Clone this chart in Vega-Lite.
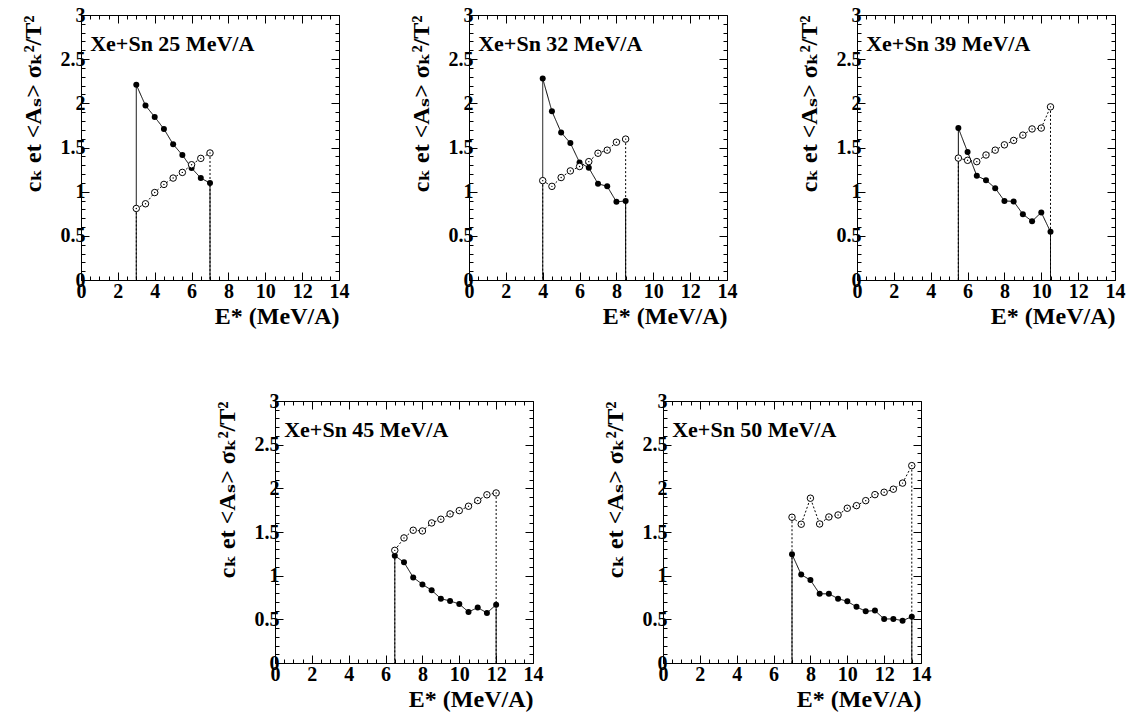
{
"$schema": "https://vega.github.io/schema/vega-lite/v6.json",
"background": "white",
"padding": {"left": 21, "top": 5, "right": 5, "bottom": 5},
"config": {"view": {"stroke": null}},
"datasets": {"d": [
{"p":"25","s":"f","e":3,"v":2.21},{"p":"25","s":"f","e":3.5,"v":1.975},{"p":"25","s":"f","e":4,"v":1.846},{"p":"25","s":"f","e":4.5,"v":1.71},{"p":"25","s":"f","e":5,"v":1.536},{"p":"25","s":"f","e":5.5,"v":1.415},{"p":"25","s":"f","e":6,"v":1.267},{"p":"25","s":"f","e":6.5,"v":1.154},{"p":"25","s":"f","e":7,"v":1.097},
{"p":"25","s":"o","e":3,"v":0.81},{"p":"25","s":"o","e":3.5,"v":0.863},{"p":"25","s":"o","e":4,"v":0.99},{"p":"25","s":"o","e":4.5,"v":1.082},{"p":"25","s":"o","e":5,"v":1.154},{"p":"25","s":"o","e":5.5,"v":1.218},{"p":"25","s":"o","e":6,"v":1.305},{"p":"25","s":"o","e":6.5,"v":1.377},{"p":"25","s":"o","e":7,"v":1.438},
{"p":"32","s":"f","e":4,"v":2.28},{"p":"32","s":"f","e":4.5,"v":1.91},{"p":"32","s":"f","e":5,"v":1.67},{"p":"32","s":"f","e":5.5,"v":1.55},{"p":"32","s":"f","e":6,"v":1.33},{"p":"32","s":"f","e":6.5,"v":1.27},{"p":"32","s":"f","e":7,"v":1.09},{"p":"32","s":"f","e":7.5,"v":1.06},{"p":"32","s":"f","e":8,"v":0.885},{"p":"32","s":"f","e":8.5,"v":0.895},
{"p":"32","s":"o","e":4,"v":1.125},{"p":"32","s":"o","e":4.5,"v":1.06},{"p":"32","s":"o","e":5,"v":1.16},{"p":"32","s":"o","e":5.5,"v":1.235},{"p":"32","s":"o","e":6,"v":1.285},{"p":"32","s":"o","e":6.5,"v":1.34},{"p":"32","s":"o","e":7,"v":1.435},{"p":"32","s":"o","e":7.5,"v":1.47},{"p":"32","s":"o","e":8,"v":1.56},{"p":"32","s":"o","e":8.5,"v":1.595},
{"p":"39","s":"f","e":5.5,"v":1.72},{"p":"39","s":"f","e":6,"v":1.45},{"p":"39","s":"f","e":6.5,"v":1.18},{"p":"39","s":"f","e":7,"v":1.13},{"p":"39","s":"f","e":7.5,"v":1.04},{"p":"39","s":"f","e":8,"v":0.895},{"p":"39","s":"f","e":8.5,"v":0.89},{"p":"39","s":"f","e":9,"v":0.745},{"p":"39","s":"f","e":9.5,"v":0.665},{"p":"39","s":"f","e":10,"v":0.765},{"p":"39","s":"f","e":10.5,"v":0.545},
{"p":"39","s":"o","e":5.5,"v":1.38},{"p":"39","s":"o","e":6,"v":1.355},{"p":"39","s":"o","e":6.5,"v":1.34},{"p":"39","s":"o","e":7,"v":1.415},{"p":"39","s":"o","e":7.5,"v":1.47},{"p":"39","s":"o","e":8,"v":1.53},{"p":"39","s":"o","e":8.5,"v":1.58},{"p":"39","s":"o","e":9,"v":1.64},{"p":"39","s":"o","e":9.5,"v":1.71},{"p":"39","s":"o","e":10,"v":1.72},{"p":"39","s":"o","e":10.5,"v":1.96},
{"p":"45","s":"f","e":6.5,"v":1.229},{"p":"45","s":"f","e":7,"v":1.153},{"p":"45","s":"f","e":7.5,"v":0.98},{"p":"45","s":"f","e":8,"v":0.9},{"p":"45","s":"f","e":8.5,"v":0.833},{"p":"45","s":"f","e":9,"v":0.737},{"p":"45","s":"f","e":9.5,"v":0.71},{"p":"45","s":"f","e":10,"v":0.676},{"p":"45","s":"f","e":10.5,"v":0.584},{"p":"45","s":"f","e":11,"v":0.635},{"p":"45","s":"f","e":11.5,"v":0.573},{"p":"45","s":"f","e":12,"v":0.668},
{"p":"45","s":"o","e":6.5,"v":1.29},{"p":"45","s":"o","e":7,"v":1.432},{"p":"45","s":"o","e":7.5,"v":1.52},{"p":"45","s":"o","e":8,"v":1.512},{"p":"45","s":"o","e":8.5,"v":1.604},{"p":"45","s":"o","e":9,"v":1.646},{"p":"45","s":"o","e":9.5,"v":1.707},{"p":"45","s":"o","e":10,"v":1.745},{"p":"45","s":"o","e":10.5,"v":1.795},{"p":"45","s":"o","e":11,"v":1.86},{"p":"45","s":"o","e":11.5,"v":1.926},{"p":"45","s":"o","e":12,"v":1.947},
{"p":"50","s":"f","e":7,"v":1.245},{"p":"50","s":"f","e":7.5,"v":1.012},{"p":"50","s":"f","e":8,"v":0.949},{"p":"50","s":"f","e":8.5,"v":0.792},{"p":"50","s":"f","e":9,"v":0.792},{"p":"50","s":"f","e":9.5,"v":0.737},{"p":"50","s":"f","e":10,"v":0.706},{"p":"50","s":"f","e":10.5,"v":0.643},{"p":"50","s":"f","e":11,"v":0.592},{"p":"50","s":"f","e":11.5,"v":0.6},{"p":"50","s":"f","e":12,"v":0.504},{"p":"50","s":"f","e":12.5,"v":0.505},{"p":"50","s":"f","e":13,"v":0.485},{"p":"50","s":"f","e":13.5,"v":0.53},
{"p":"50","s":"o","e":7,"v":1.669},{"p":"50","s":"o","e":7.5,"v":1.589},{"p":"50","s":"o","e":8,"v":1.887},{"p":"50","s":"o","e":8.5,"v":1.592},{"p":"50","s":"o","e":9,"v":1.672},{"p":"50","s":"o","e":9.5,"v":1.695},{"p":"50","s":"o","e":10,"v":1.772},{"p":"50","s":"o","e":10.5,"v":1.802},{"p":"50","s":"o","e":11,"v":1.859},{"p":"50","s":"o","e":11.5,"v":1.928},{"p":"50","s":"o","e":12,"v":1.955},{"p":"50","s":"o","e":12.5,"v":1.99},{"p":"50","s":"o","e":13,"v":2.06},{"p":"50","s":"o","e":13.5,"v":2.26}
]},
"center": true,
"spacing": 63,
"vconcat": [
{"spacing": 60, "hconcat": [
{"width": 258, "height": 265, "data": {"name": "d"},
 "transform": [{"filter": "datum.p == '25'"}, {"joinaggregate": [{"op": "min", "field": "e", "as": "emin"}, {"op": "max", "field": "e", "as": "emax"}], "groupby": ["s"]}],
 "resolve": {"axis": {"x": "independent", "y": "independent"}},
 "layer": [
  {"transform": [{"filter": "datum.e == datum.emin || datum.e == datum.emax"}], "mark": {"type": "rule", "color": "black", "strokeWidth": 1},
   "encoding": {
    "x": {"field": "e", "type": "quantitative", "scale": {"domain": [0, 14], "nice": false, "zero": false}, "axis": {"orient": "bottom", "values": [0,0.5,1,1.5,2,2.5,3,3.5,4,4.5,5,5.5,6,6.5,7,7.5,8,8.5,9,9.5,10,10.5,11,11.5,12,12.5,13,13.5,14], "labelExpr": "datum.value % 2 == 0 ? format(datum.value, 'd') : ''", "tickSize": {"condition": {"test": "datum.value % 2 == 0", "value": -8}, "value": -4}, "tickColor": "black", "domainColor": "black", "labelFont": "Liberation Serif, Times New Roman, DejaVu Serif, serif", "labelFontWeight": "bold", "labelFontSize": 20, "labelColor": "black", "labelPadding": 9, "labelFlush": false, "labelOverlap": false, "title": "E* (MeV/A)", "titleAnchor": "end", "titleFont": "Liberation Serif, Times New Roman, DejaVu Serif, serif", "titleFontSize": 24, "titleFontWeight": "bold", "titleColor": "black", "titlePadding": -1, "grid": false}},
    "y": {"field": "v", "type": "quantitative", "scale": {"domain": [0, 3], "nice": false}, "axis": {"orient": "left", "values": [0,0.1,0.2,0.3,0.4,0.5,0.6,0.7,0.8,0.9,1,1.1,1.2,1.3,1.4,1.5,1.6,1.7,1.8,1.9,2,2.1,2.2,2.3,2.4,2.5,2.6,2.7,2.8,2.9,3], "labelExpr": "abs(datum.value*2 - round(datum.value*2)) < 0.001 ? format(datum.value, '~g') : ''", "tickSize": {"condition": {"test": "abs(datum.value*2 - round(datum.value*2)) < 0.001", "value": -8}, "value": -4}, "tickColor": "black", "domainColor": "black", "labelFont": "Liberation Serif, Times New Roman, DejaVu Serif, serif", "labelFontWeight": "bold", "labelFontSize": 20, "labelColor": "black", "labelPadding": 4, "labelFlush": false, "labelOverlap": false, "title": "cₖ et <Aₛ> σₖ²/T²", "titleX": -41, "titleY": 0, "titleAngle": 270, "titleAlign": "right", "titleBaseline": "alphabetic", "titleFont": "Liberation Serif, Times New Roman, DejaVu Serif, serif", "titleFontSize": 24, "titleFontWeight": "bold", "titleColor": "black", "grid": false}},
    "y2": {"datum": 0},
    "strokeDash": {"field": "s", "type": "nominal", "scale": {"domain": ["f", "o"], "range": [[1, 0], [2, 2]]}, "legend": null}}},
  {"mark": {"type": "line", "color": "black", "strokeWidth": 1},
   "encoding": {
    "x": {"field": "e", "type": "quantitative", "axis": {"orient": "top", "values": [0,0.5,1,1.5,2,2.5,3,3.5,4,4.5,5,5.5,6,6.5,7,7.5,8,8.5,9,9.5,10,10.5,11,11.5,12,12.5,13,13.5,14], "labels": false, "tickSize": {"condition": {"test": "datum.value % 2 == 0", "value": -8}, "value": -4}, "tickColor": "black", "domainColor": "black", "title": null, "grid": false}},
    "y": {"field": "v", "type": "quantitative", "axis": {"orient": "right", "values": [0,0.1,0.2,0.3,0.4,0.5,0.6,0.7,0.8,0.9,1,1.1,1.2,1.3,1.4,1.5,1.6,1.7,1.8,1.9,2,2.1,2.2,2.3,2.4,2.5,2.6,2.7,2.8,2.9,3], "labels": false, "tickSize": {"condition": {"test": "abs(datum.value*2 - round(datum.value*2)) < 0.001", "value": -8}, "value": -4}, "tickColor": "black", "domainColor": "black", "title": null, "grid": false}},
    "strokeDash": {"field": "s", "type": "nominal", "legend": null}}},
  {"transform": [{"filter": "datum.s == 'f'"}], "mark": {"type": "circle", "color": "black", "opacity": 1, "size": 36},
   "encoding": {"x": {"field": "e", "type": "quantitative", "axis": null}, "y": {"field": "v", "type": "quantitative", "axis": null}}},
  {"transform": [{"filter": "datum.s == 'o'"}], "mark": {"type": "point", "shape": "circle", "filled": false, "fill": "white", "fillOpacity": 1, "stroke": "black", "strokeWidth": 1, "opacity": 1, "size": 42},
   "encoding": {"x": {"field": "e", "type": "quantitative", "axis": null}, "y": {"field": "v", "type": "quantitative", "axis": null}}},
  {"transform": [{"filter": "datum.s == 'o'"}], "mark": {"type": "circle", "color": "black", "opacity": 1, "size": 2},
   "encoding": {"x": {"field": "e", "type": "quantitative", "axis": null}, "y": {"field": "v", "type": "quantitative", "axis": null}}},
  {"data": {"values": [{"t": "Xe+Sn 25 MeV/A"}]}, "mark": {"type": "text", "align": "left", "baseline": "middle", "font": "Liberation Serif, Times New Roman, DejaVu Serif, serif", "fontWeight": "bold", "fontSize": 22, "color": "black"},
   "encoding": {"x": {"datum": 0.5, "type": "quantitative", "axis": null}, "y": {"datum": 2.67, "type": "quantitative", "axis": null}, "text": {"field": "t"}}}
 ]},
{"width": 258, "height": 265, "data": {"name": "d"},
 "transform": [{"filter": "datum.p == '32'"}, {"joinaggregate": [{"op": "min", "field": "e", "as": "emin"}, {"op": "max", "field": "e", "as": "emax"}], "groupby": ["s"]}],
 "resolve": {"axis": {"x": "independent", "y": "independent"}},
 "layer": [
  {"transform": [{"filter": "datum.e == datum.emin || datum.e == datum.emax"}], "mark": {"type": "rule", "color": "black", "strokeWidth": 1},
   "encoding": {
    "x": {"field": "e", "type": "quantitative", "scale": {"domain": [0, 14], "nice": false, "zero": false}, "axis": {"orient": "bottom", "values": [0,0.5,1,1.5,2,2.5,3,3.5,4,4.5,5,5.5,6,6.5,7,7.5,8,8.5,9,9.5,10,10.5,11,11.5,12,12.5,13,13.5,14], "labelExpr": "datum.value % 2 == 0 ? format(datum.value, 'd') : ''", "tickSize": {"condition": {"test": "datum.value % 2 == 0", "value": -8}, "value": -4}, "tickColor": "black", "domainColor": "black", "labelFont": "Liberation Serif, Times New Roman, DejaVu Serif, serif", "labelFontWeight": "bold", "labelFontSize": 20, "labelColor": "black", "labelPadding": 9, "labelFlush": false, "labelOverlap": false, "title": "E* (MeV/A)", "titleAnchor": "end", "titleFont": "Liberation Serif, Times New Roman, DejaVu Serif, serif", "titleFontSize": 24, "titleFontWeight": "bold", "titleColor": "black", "titlePadding": -1, "grid": false}},
    "y": {"field": "v", "type": "quantitative", "scale": {"domain": [0, 3], "nice": false}, "axis": {"orient": "left", "values": [0,0.1,0.2,0.3,0.4,0.5,0.6,0.7,0.8,0.9,1,1.1,1.2,1.3,1.4,1.5,1.6,1.7,1.8,1.9,2,2.1,2.2,2.3,2.4,2.5,2.6,2.7,2.8,2.9,3], "labelExpr": "abs(datum.value*2 - round(datum.value*2)) < 0.001 ? format(datum.value, '~g') : ''", "tickSize": {"condition": {"test": "abs(datum.value*2 - round(datum.value*2)) < 0.001", "value": -8}, "value": -4}, "tickColor": "black", "domainColor": "black", "labelFont": "Liberation Serif, Times New Roman, DejaVu Serif, serif", "labelFontWeight": "bold", "labelFontSize": 20, "labelColor": "black", "labelPadding": 4, "labelFlush": false, "labelOverlap": false, "title": "cₖ et <Aₛ> σₖ²/T²", "titleX": -41, "titleY": 0, "titleAngle": 270, "titleAlign": "right", "titleBaseline": "alphabetic", "titleFont": "Liberation Serif, Times New Roman, DejaVu Serif, serif", "titleFontSize": 24, "titleFontWeight": "bold", "titleColor": "black", "grid": false}},
    "y2": {"datum": 0},
    "strokeDash": {"field": "s", "type": "nominal", "scale": {"domain": ["f", "o"], "range": [[1, 0], [2, 2]]}, "legend": null}}},
  {"mark": {"type": "line", "color": "black", "strokeWidth": 1},
   "encoding": {
    "x": {"field": "e", "type": "quantitative", "axis": {"orient": "top", "values": [0,0.5,1,1.5,2,2.5,3,3.5,4,4.5,5,5.5,6,6.5,7,7.5,8,8.5,9,9.5,10,10.5,11,11.5,12,12.5,13,13.5,14], "labels": false, "tickSize": {"condition": {"test": "datum.value % 2 == 0", "value": -8}, "value": -4}, "tickColor": "black", "domainColor": "black", "title": null, "grid": false}},
    "y": {"field": "v", "type": "quantitative", "axis": {"orient": "right", "values": [0,0.1,0.2,0.3,0.4,0.5,0.6,0.7,0.8,0.9,1,1.1,1.2,1.3,1.4,1.5,1.6,1.7,1.8,1.9,2,2.1,2.2,2.3,2.4,2.5,2.6,2.7,2.8,2.9,3], "labels": false, "tickSize": {"condition": {"test": "abs(datum.value*2 - round(datum.value*2)) < 0.001", "value": -8}, "value": -4}, "tickColor": "black", "domainColor": "black", "title": null, "grid": false}},
    "strokeDash": {"field": "s", "type": "nominal", "legend": null}}},
  {"transform": [{"filter": "datum.s == 'f'"}], "mark": {"type": "circle", "color": "black", "opacity": 1, "size": 36},
   "encoding": {"x": {"field": "e", "type": "quantitative", "axis": null}, "y": {"field": "v", "type": "quantitative", "axis": null}}},
  {"transform": [{"filter": "datum.s == 'o'"}], "mark": {"type": "point", "shape": "circle", "filled": false, "fill": "white", "fillOpacity": 1, "stroke": "black", "strokeWidth": 1, "opacity": 1, "size": 42},
   "encoding": {"x": {"field": "e", "type": "quantitative", "axis": null}, "y": {"field": "v", "type": "quantitative", "axis": null}}},
  {"transform": [{"filter": "datum.s == 'o'"}], "mark": {"type": "circle", "color": "black", "opacity": 1, "size": 2},
   "encoding": {"x": {"field": "e", "type": "quantitative", "axis": null}, "y": {"field": "v", "type": "quantitative", "axis": null}}},
  {"data": {"values": [{"t": "Xe+Sn 32 MeV/A"}]}, "mark": {"type": "text", "align": "left", "baseline": "middle", "font": "Liberation Serif, Times New Roman, DejaVu Serif, serif", "fontWeight": "bold", "fontSize": 22, "color": "black"},
   "encoding": {"x": {"datum": 0.5, "type": "quantitative", "axis": null}, "y": {"datum": 2.67, "type": "quantitative", "axis": null}, "text": {"field": "t"}}}
 ]},
{"width": 258, "height": 265, "data": {"name": "d"},
 "transform": [{"filter": "datum.p == '39'"}, {"joinaggregate": [{"op": "min", "field": "e", "as": "emin"}, {"op": "max", "field": "e", "as": "emax"}], "groupby": ["s"]}],
 "resolve": {"axis": {"x": "independent", "y": "independent"}},
 "layer": [
  {"transform": [{"filter": "datum.e == datum.emin || datum.e == datum.emax"}], "mark": {"type": "rule", "color": "black", "strokeWidth": 1},
   "encoding": {
    "x": {"field": "e", "type": "quantitative", "scale": {"domain": [0, 14], "nice": false, "zero": false}, "axis": {"orient": "bottom", "values": [0,0.5,1,1.5,2,2.5,3,3.5,4,4.5,5,5.5,6,6.5,7,7.5,8,8.5,9,9.5,10,10.5,11,11.5,12,12.5,13,13.5,14], "labelExpr": "datum.value % 2 == 0 ? format(datum.value, 'd') : ''", "tickSize": {"condition": {"test": "datum.value % 2 == 0", "value": -8}, "value": -4}, "tickColor": "black", "domainColor": "black", "labelFont": "Liberation Serif, Times New Roman, DejaVu Serif, serif", "labelFontWeight": "bold", "labelFontSize": 20, "labelColor": "black", "labelPadding": 9, "labelFlush": false, "labelOverlap": false, "title": "E* (MeV/A)", "titleAnchor": "end", "titleFont": "Liberation Serif, Times New Roman, DejaVu Serif, serif", "titleFontSize": 24, "titleFontWeight": "bold", "titleColor": "black", "titlePadding": -1, "grid": false}},
    "y": {"field": "v", "type": "quantitative", "scale": {"domain": [0, 3], "nice": false}, "axis": {"orient": "left", "values": [0,0.1,0.2,0.3,0.4,0.5,0.6,0.7,0.8,0.9,1,1.1,1.2,1.3,1.4,1.5,1.6,1.7,1.8,1.9,2,2.1,2.2,2.3,2.4,2.5,2.6,2.7,2.8,2.9,3], "labelExpr": "abs(datum.value*2 - round(datum.value*2)) < 0.001 ? format(datum.value, '~g') : ''", "tickSize": {"condition": {"test": "abs(datum.value*2 - round(datum.value*2)) < 0.001", "value": -8}, "value": -4}, "tickColor": "black", "domainColor": "black", "labelFont": "Liberation Serif, Times New Roman, DejaVu Serif, serif", "labelFontWeight": "bold", "labelFontSize": 20, "labelColor": "black", "labelPadding": 4, "labelFlush": false, "labelOverlap": false, "title": "cₖ et <Aₛ> σₖ²/T²", "titleX": -41, "titleY": 0, "titleAngle": 270, "titleAlign": "right", "titleBaseline": "alphabetic", "titleFont": "Liberation Serif, Times New Roman, DejaVu Serif, serif", "titleFontSize": 24, "titleFontWeight": "bold", "titleColor": "black", "grid": false}},
    "y2": {"datum": 0},
    "strokeDash": {"field": "s", "type": "nominal", "scale": {"domain": ["f", "o"], "range": [[1, 0], [2, 2]]}, "legend": null}}},
  {"mark": {"type": "line", "color": "black", "strokeWidth": 1},
   "encoding": {
    "x": {"field": "e", "type": "quantitative", "axis": {"orient": "top", "values": [0,0.5,1,1.5,2,2.5,3,3.5,4,4.5,5,5.5,6,6.5,7,7.5,8,8.5,9,9.5,10,10.5,11,11.5,12,12.5,13,13.5,14], "labels": false, "tickSize": {"condition": {"test": "datum.value % 2 == 0", "value": -8}, "value": -4}, "tickColor": "black", "domainColor": "black", "title": null, "grid": false}},
    "y": {"field": "v", "type": "quantitative", "axis": {"orient": "right", "values": [0,0.1,0.2,0.3,0.4,0.5,0.6,0.7,0.8,0.9,1,1.1,1.2,1.3,1.4,1.5,1.6,1.7,1.8,1.9,2,2.1,2.2,2.3,2.4,2.5,2.6,2.7,2.8,2.9,3], "labels": false, "tickSize": {"condition": {"test": "abs(datum.value*2 - round(datum.value*2)) < 0.001", "value": -8}, "value": -4}, "tickColor": "black", "domainColor": "black", "title": null, "grid": false}},
    "strokeDash": {"field": "s", "type": "nominal", "legend": null}}},
  {"transform": [{"filter": "datum.s == 'f'"}], "mark": {"type": "circle", "color": "black", "opacity": 1, "size": 36},
   "encoding": {"x": {"field": "e", "type": "quantitative", "axis": null}, "y": {"field": "v", "type": "quantitative", "axis": null}}},
  {"transform": [{"filter": "datum.s == 'o'"}], "mark": {"type": "point", "shape": "circle", "filled": false, "fill": "white", "fillOpacity": 1, "stroke": "black", "strokeWidth": 1, "opacity": 1, "size": 42},
   "encoding": {"x": {"field": "e", "type": "quantitative", "axis": null}, "y": {"field": "v", "type": "quantitative", "axis": null}}},
  {"transform": [{"filter": "datum.s == 'o'"}], "mark": {"type": "circle", "color": "black", "opacity": 1, "size": 2},
   "encoding": {"x": {"field": "e", "type": "quantitative", "axis": null}, "y": {"field": "v", "type": "quantitative", "axis": null}}},
  {"data": {"values": [{"t": "Xe+Sn 39 MeV/A"}]}, "mark": {"type": "text", "align": "left", "baseline": "middle", "font": "Liberation Serif, Times New Roman, DejaVu Serif, serif", "fontWeight": "bold", "fontSize": 22, "color": "black"},
   "encoding": {"x": {"datum": 0.5, "type": "quantitative", "axis": null}, "y": {"datum": 2.67, "type": "quantitative", "axis": null}, "text": {"field": "t"}}}
 ]}
]},
{"spacing": 60, "hconcat": [
{"width": 258, "height": 262, "data": {"name": "d"},
 "transform": [{"filter": "datum.p == '45'"}, {"joinaggregate": [{"op": "min", "field": "e", "as": "emin"}, {"op": "max", "field": "e", "as": "emax"}], "groupby": ["s"]}],
 "resolve": {"axis": {"x": "independent", "y": "independent"}},
 "layer": [
  {"transform": [{"filter": "datum.e == datum.emin || datum.e == datum.emax"}], "mark": {"type": "rule", "color": "black", "strokeWidth": 1},
   "encoding": {
    "x": {"field": "e", "type": "quantitative", "scale": {"domain": [0, 14], "nice": false, "zero": false}, "axis": {"orient": "bottom", "values": [0,0.5,1,1.5,2,2.5,3,3.5,4,4.5,5,5.5,6,6.5,7,7.5,8,8.5,9,9.5,10,10.5,11,11.5,12,12.5,13,13.5,14], "labelExpr": "datum.value % 2 == 0 ? format(datum.value, 'd') : ''", "tickSize": {"condition": {"test": "datum.value % 2 == 0", "value": -8}, "value": -4}, "tickColor": "black", "domainColor": "black", "labelFont": "Liberation Serif, Times New Roman, DejaVu Serif, serif", "labelFontWeight": "bold", "labelFontSize": 20, "labelColor": "black", "labelPadding": 9, "labelFlush": false, "labelOverlap": false, "title": "E* (MeV/A)", "titleAnchor": "end", "titleFont": "Liberation Serif, Times New Roman, DejaVu Serif, serif", "titleFontSize": 24, "titleFontWeight": "bold", "titleColor": "black", "titlePadding": -1, "grid": false}},
    "y": {"field": "v", "type": "quantitative", "scale": {"domain": [0, 3], "nice": false}, "axis": {"orient": "left", "values": [0,0.1,0.2,0.3,0.4,0.5,0.6,0.7,0.8,0.9,1,1.1,1.2,1.3,1.4,1.5,1.6,1.7,1.8,1.9,2,2.1,2.2,2.3,2.4,2.5,2.6,2.7,2.8,2.9,3], "labelExpr": "abs(datum.value*2 - round(datum.value*2)) < 0.001 ? format(datum.value, '~g') : ''", "tickSize": {"condition": {"test": "abs(datum.value*2 - round(datum.value*2)) < 0.001", "value": -8}, "value": -4}, "tickColor": "black", "domainColor": "black", "labelFont": "Liberation Serif, Times New Roman, DejaVu Serif, serif", "labelFontWeight": "bold", "labelFontSize": 20, "labelColor": "black", "labelPadding": 4, "labelFlush": false, "labelOverlap": false, "title": "cₖ et <Aₛ> σₖ²/T²", "titleX": -41, "titleY": 0, "titleAngle": 270, "titleAlign": "right", "titleBaseline": "alphabetic", "titleFont": "Liberation Serif, Times New Roman, DejaVu Serif, serif", "titleFontSize": 24, "titleFontWeight": "bold", "titleColor": "black", "grid": false}},
    "y2": {"datum": 0},
    "strokeDash": {"field": "s", "type": "nominal", "scale": {"domain": ["f", "o"], "range": [[1, 0], [2, 2]]}, "legend": null}}},
  {"mark": {"type": "line", "color": "black", "strokeWidth": 1},
   "encoding": {
    "x": {"field": "e", "type": "quantitative", "axis": {"orient": "top", "values": [0,0.5,1,1.5,2,2.5,3,3.5,4,4.5,5,5.5,6,6.5,7,7.5,8,8.5,9,9.5,10,10.5,11,11.5,12,12.5,13,13.5,14], "labels": false, "tickSize": {"condition": {"test": "datum.value % 2 == 0", "value": -8}, "value": -4}, "tickColor": "black", "domainColor": "black", "title": null, "grid": false}},
    "y": {"field": "v", "type": "quantitative", "axis": {"orient": "right", "values": [0,0.1,0.2,0.3,0.4,0.5,0.6,0.7,0.8,0.9,1,1.1,1.2,1.3,1.4,1.5,1.6,1.7,1.8,1.9,2,2.1,2.2,2.3,2.4,2.5,2.6,2.7,2.8,2.9,3], "labels": false, "tickSize": {"condition": {"test": "abs(datum.value*2 - round(datum.value*2)) < 0.001", "value": -8}, "value": -4}, "tickColor": "black", "domainColor": "black", "title": null, "grid": false}},
    "strokeDash": {"field": "s", "type": "nominal", "legend": null}}},
  {"transform": [{"filter": "datum.s == 'f'"}], "mark": {"type": "circle", "color": "black", "opacity": 1, "size": 36},
   "encoding": {"x": {"field": "e", "type": "quantitative", "axis": null}, "y": {"field": "v", "type": "quantitative", "axis": null}}},
  {"transform": [{"filter": "datum.s == 'o'"}], "mark": {"type": "point", "shape": "circle", "filled": false, "fill": "white", "fillOpacity": 1, "stroke": "black", "strokeWidth": 1, "opacity": 1, "size": 42},
   "encoding": {"x": {"field": "e", "type": "quantitative", "axis": null}, "y": {"field": "v", "type": "quantitative", "axis": null}}},
  {"transform": [{"filter": "datum.s == 'o'"}], "mark": {"type": "circle", "color": "black", "opacity": 1, "size": 2},
   "encoding": {"x": {"field": "e", "type": "quantitative", "axis": null}, "y": {"field": "v", "type": "quantitative", "axis": null}}},
  {"data": {"values": [{"t": "Xe+Sn 45 MeV/A"}]}, "mark": {"type": "text", "align": "left", "baseline": "middle", "font": "Liberation Serif, Times New Roman, DejaVu Serif, serif", "fontWeight": "bold", "fontSize": 22, "color": "black"},
   "encoding": {"x": {"datum": 0.5, "type": "quantitative", "axis": null}, "y": {"datum": 2.67, "type": "quantitative", "axis": null}, "text": {"field": "t"}}}
 ]},
{"width": 258, "height": 262, "data": {"name": "d"},
 "transform": [{"filter": "datum.p == '50'"}, {"joinaggregate": [{"op": "min", "field": "e", "as": "emin"}, {"op": "max", "field": "e", "as": "emax"}], "groupby": ["s"]}],
 "resolve": {"axis": {"x": "independent", "y": "independent"}},
 "layer": [
  {"transform": [{"filter": "datum.e == datum.emin || datum.e == datum.emax"}], "mark": {"type": "rule", "color": "black", "strokeWidth": 1},
   "encoding": {
    "x": {"field": "e", "type": "quantitative", "scale": {"domain": [0, 14], "nice": false, "zero": false}, "axis": {"orient": "bottom", "values": [0,0.5,1,1.5,2,2.5,3,3.5,4,4.5,5,5.5,6,6.5,7,7.5,8,8.5,9,9.5,10,10.5,11,11.5,12,12.5,13,13.5,14], "labelExpr": "datum.value % 2 == 0 ? format(datum.value, 'd') : ''", "tickSize": {"condition": {"test": "datum.value % 2 == 0", "value": -8}, "value": -4}, "tickColor": "black", "domainColor": "black", "labelFont": "Liberation Serif, Times New Roman, DejaVu Serif, serif", "labelFontWeight": "bold", "labelFontSize": 20, "labelColor": "black", "labelPadding": 9, "labelFlush": false, "labelOverlap": false, "title": "E* (MeV/A)", "titleAnchor": "end", "titleFont": "Liberation Serif, Times New Roman, DejaVu Serif, serif", "titleFontSize": 24, "titleFontWeight": "bold", "titleColor": "black", "titlePadding": -1, "grid": false}},
    "y": {"field": "v", "type": "quantitative", "scale": {"domain": [0, 3], "nice": false}, "axis": {"orient": "left", "values": [0,0.1,0.2,0.3,0.4,0.5,0.6,0.7,0.8,0.9,1,1.1,1.2,1.3,1.4,1.5,1.6,1.7,1.8,1.9,2,2.1,2.2,2.3,2.4,2.5,2.6,2.7,2.8,2.9,3], "labelExpr": "abs(datum.value*2 - round(datum.value*2)) < 0.001 ? format(datum.value, '~g') : ''", "tickSize": {"condition": {"test": "abs(datum.value*2 - round(datum.value*2)) < 0.001", "value": -8}, "value": -4}, "tickColor": "black", "domainColor": "black", "labelFont": "Liberation Serif, Times New Roman, DejaVu Serif, serif", "labelFontWeight": "bold", "labelFontSize": 20, "labelColor": "black", "labelPadding": 4, "labelFlush": false, "labelOverlap": false, "title": "cₖ et <Aₛ> σₖ²/T²", "titleX": -41, "titleY": 0, "titleAngle": 270, "titleAlign": "right", "titleBaseline": "alphabetic", "titleFont": "Liberation Serif, Times New Roman, DejaVu Serif, serif", "titleFontSize": 24, "titleFontWeight": "bold", "titleColor": "black", "grid": false}},
    "y2": {"datum": 0},
    "strokeDash": {"field": "s", "type": "nominal", "scale": {"domain": ["f", "o"], "range": [[1, 0], [2, 2]]}, "legend": null}}},
  {"mark": {"type": "line", "color": "black", "strokeWidth": 1},
   "encoding": {
    "x": {"field": "e", "type": "quantitative", "axis": {"orient": "top", "values": [0,0.5,1,1.5,2,2.5,3,3.5,4,4.5,5,5.5,6,6.5,7,7.5,8,8.5,9,9.5,10,10.5,11,11.5,12,12.5,13,13.5,14], "labels": false, "tickSize": {"condition": {"test": "datum.value % 2 == 0", "value": -8}, "value": -4}, "tickColor": "black", "domainColor": "black", "title": null, "grid": false}},
    "y": {"field": "v", "type": "quantitative", "axis": {"orient": "right", "values": [0,0.1,0.2,0.3,0.4,0.5,0.6,0.7,0.8,0.9,1,1.1,1.2,1.3,1.4,1.5,1.6,1.7,1.8,1.9,2,2.1,2.2,2.3,2.4,2.5,2.6,2.7,2.8,2.9,3], "labels": false, "tickSize": {"condition": {"test": "abs(datum.value*2 - round(datum.value*2)) < 0.001", "value": -8}, "value": -4}, "tickColor": "black", "domainColor": "black", "title": null, "grid": false}},
    "strokeDash": {"field": "s", "type": "nominal", "legend": null}}},
  {"transform": [{"filter": "datum.s == 'f'"}], "mark": {"type": "circle", "color": "black", "opacity": 1, "size": 36},
   "encoding": {"x": {"field": "e", "type": "quantitative", "axis": null}, "y": {"field": "v", "type": "quantitative", "axis": null}}},
  {"transform": [{"filter": "datum.s == 'o'"}], "mark": {"type": "point", "shape": "circle", "filled": false, "fill": "white", "fillOpacity": 1, "stroke": "black", "strokeWidth": 1, "opacity": 1, "size": 42},
   "encoding": {"x": {"field": "e", "type": "quantitative", "axis": null}, "y": {"field": "v", "type": "quantitative", "axis": null}}},
  {"transform": [{"filter": "datum.s == 'o'"}], "mark": {"type": "circle", "color": "black", "opacity": 1, "size": 2},
   "encoding": {"x": {"field": "e", "type": "quantitative", "axis": null}, "y": {"field": "v", "type": "quantitative", "axis": null}}},
  {"data": {"values": [{"t": "Xe+Sn 50 MeV/A"}]}, "mark": {"type": "text", "align": "left", "baseline": "middle", "font": "Liberation Serif, Times New Roman, DejaVu Serif, serif", "fontWeight": "bold", "fontSize": 22, "color": "black"},
   "encoding": {"x": {"datum": 0.5, "type": "quantitative", "axis": null}, "y": {"datum": 2.67, "type": "quantitative", "axis": null}, "text": {"field": "t"}}}
 ]}
]}
]
}
